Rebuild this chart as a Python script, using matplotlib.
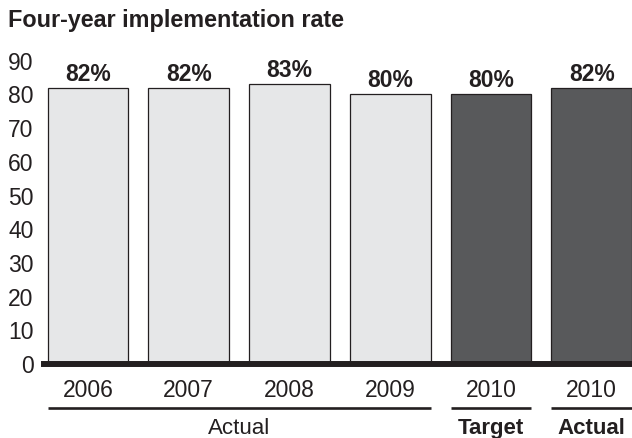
import matplotlib
matplotlib.use("Agg")
import matplotlib.pyplot as plt
import numpy as np

plt.rcParams['font.family'] = ['Liberation Sans', 'DejaVu Sans']

years = ["2006", "2007", "2008", "2009", "2010", "2010"]
rates = [82, 82, 83, 80, 80, 82]
labels = ["82%", "82%", "83%", "80%", "80%", "82%"]
bar_colors = ["#e6e7e8", "#e6e7e8", "#e6e7e8", "#e6e7e8", "#58595b", "#58595b"]
# (label, first bar, last bar, bold)
groups = [("Actual", 0, 3, False), ("Target", 4, 4, True), ("Actual", 5, 5, True)]
yticks = [0, 10, 20, 30, 40, 50, 60, 70, 80, 90]

ink = "#231f20"
width = 0.8

fig = plt.figure(figsize=(6.32, 4.38), dpi=100)
ax = fig.add_axes([0.0696, 0.1689, 0.9304, 0.6925])

x = np.arange(len(rates))
bars = ax.bar(x, rates, width=width, color=bar_colors, edgecolor=ink, linewidth=0.9, zorder=2)

for xi, val, lab in zip(x, rates, labels):
    ax.annotate(lab, (xi, val), xytext=(0, 5), textcoords="offset points",
                ha="center", va="baseline", fontsize=16.5, fontweight="bold",
                color=ink, annotation_clip=False)

ax.set_xlim(-0.437, len(rates) - 1 + width / 2)
ax.set_ylim(0, 90)
ax.set_yticks(yticks)
ax.set_xticks(x, years)
ax.tick_params(axis="both", length=0, labelsize=16.5, labelcolor=ink)
ax.tick_params(axis="y", pad=7.5)
ax.tick_params(axis="x", pad=11)

for side in ["left", "right", "top"]:
    ax.spines[side].set_visible(False)
ax.spines["bottom"].set_linewidth(4.3)
ax.spines["bottom"].set_color(ink)
ax.spines["bottom"].set_zorder(3)

trans = ax.get_xaxis_transform()
for name, i0, i1, bold in groups:
    x0 = i0 - width / 2
    x1 = i1 + width / 2
    ax.plot([x0, x1], [-0.144, -0.144], color=ink, linewidth=1.9,
            transform=trans, clip_on=False, solid_capstyle="butt")
    ax.text((x0 + x1) / 2, -0.213, name, transform=trans, ha="center", va="center",
            fontsize=16, fontweight="bold" if bold else "normal", color=ink)

fig.text(8 / 632, 1 - 27 / 438, "Four-year implementation rate", ha="left", va="baseline",
         fontsize=16.8, fontweight="bold", color=ink)

fig.savefig("out.png", dpi=100)
